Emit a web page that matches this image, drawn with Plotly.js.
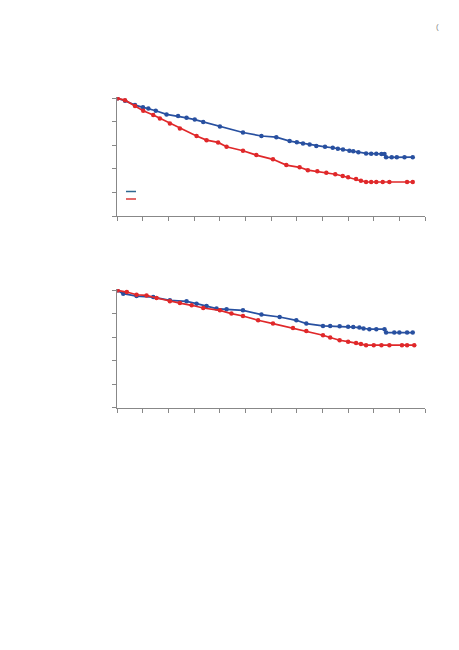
<!DOCTYPE html>
<html><head><meta charset="utf-8">
<script src="https://cdn.plot.ly/plotly-3.0.1.min.js"></script>
<style>html,body{margin:0;padding:0;background:#fff}#c{width:459px;height:650px}</style>
</head><body><div id="c"></div>
<script>
// Panel A
const tA_blue = [0,0.3,0.69,1.0,1.21,1.5,1.92,2.37,2.7,3.02,3.35,4.0,4.9,5.62,6.2,6.72,7.0,7.24,7.5,7.76,8.1,8.4,8.6,8.8,9.05,9.2,9.4,9.7,9.9,10.1,10.3,10.42,10.48,10.7,10.9,11.2,11.52];
const sA_blue = [1.0,0.98,0.943,0.925,0.915,0.895,0.864,0.85,0.835,0.82,0.80,0.76,0.71,0.68,0.67,0.637,0.627,0.617,0.607,0.595,0.588,0.58,0.572,0.565,0.555,0.55,0.543,0.532,0.53,0.529,0.528,0.527,0.499,0.499,0.5,0.5,0.5];
const tA_red = [0,0.3,0.69,1.01,1.4,1.66,2.05,2.44,3.09,3.48,3.93,4.26,4.9,5.42,6.07,6.59,7.11,7.43,7.8,8.15,8.5,8.79,9.0,9.31,9.5,9.7,9.9,10.1,10.35,10.61,11.3,11.52];
const sA_red = [1.0,0.985,0.935,0.895,0.858,0.83,0.787,0.745,0.68,0.645,0.626,0.589,0.555,0.518,0.482,0.433,0.414,0.39,0.38,0.368,0.355,0.34,0.33,0.314,0.3,0.29,0.29,0.29,0.29,0.29,0.289,0.289];
// Panel B
const tB_blue = [0,0.23,0.75,1.4,2.05,2.7,3.09,3.48,3.87,4.26,4.9,5.62,6.33,6.98,7.37,8.02,8.3,8.67,9.0,9.2,9.44,9.6,9.83,10.1,10.42,10.48,10.8,11.0,11.3,11.52];
const sB_blue = [1.0,0.972,0.952,0.943,0.915,0.907,0.887,0.867,0.845,0.839,0.83,0.794,0.773,0.745,0.717,0.697,0.696,0.694,0.69,0.687,0.683,0.676,0.669,0.669,0.669,0.64,0.64,0.64,0.64,0.64];
const tB_red = [0,0.37,0.75,1.14,1.53,2.05,2.44,2.9,3.35,4.0,4.45,4.9,5.49,6.07,6.85,7.37,8.02,8.3,8.67,9.0,9.31,9.5,9.7,10.0,10.3,10.61,11.1,11.3,11.58];
const sB_red = [1.0,0.986,0.963,0.957,0.935,0.907,0.892,0.873,0.85,0.83,0.802,0.782,0.745,0.717,0.68,0.654,0.618,0.598,0.575,0.563,0.552,0.542,0.533,0.533,0.533,0.533,0.533,0.533,0.533];

const xTicks = [0,1,2,3,4,5,6,7,8,9,10,11,12];
const yTicks = [0,0.2,0.4,0.6,0.8,1.0];

const BLUE = '#2850a0', RED = '#e0282a';
function tr(x,y,c,xa,ya){return {x:x,y:y,mode:'lines+markers',type:'scatter',xaxis:xa,yaxis:ya,
  line:{color:c,width:1.7},marker:{color:c,size:4.5,symbol:'circle'},showlegend:false,hoverinfo:'skip'};}
const data = [
  tr(tA_blue,sA_blue,BLUE,'x','y'), tr(tA_red,sA_red,RED,'x','y'),
  tr(tB_blue,sB_blue,BLUE,'x2','y2'), tr(tB_red,sB_red,RED,'x2','y2')
];
const ax = {range:[0,12],tickvals:xTicks,showticklabels:false,ticks:'outside',ticklen:4,tickcolor:'#888',
  showline:true,linecolor:'#888',linewidth:1,showgrid:false,zeroline:false,domain:[0.2556,0.926]};
const ay = {range:[0,1.012],tickvals:yTicks,showticklabels:false,ticks:'outside',ticklen:4,tickcolor:'#888',
  showline:true,linecolor:'#888',linewidth:1,showgrid:false,zeroline:false};
const layout = {
  width:459,height:650,margin:{l:0,r:0,t:0,b:0},paper_bgcolor:'#fff',plot_bgcolor:'#fff',
  xaxis:Object.assign({},ax,{anchor:'y'}),
  yaxis:Object.assign({},ay,{domain:[0.6677,0.8508],anchor:'x'}),
  xaxis2:Object.assign({},ax,{anchor:'y2'}),
  yaxis2:Object.assign({},ay,{domain:[0.3728,0.5554],anchor:'x2'}),
  shapes:[
    {type:'line',xref:'paper',yref:'paper',x0:126/459,x1:136/459,y0:1-191.5/650,y1:1-191.5/650,line:{color:'#2f6890',width:1.5}},
    {type:'line',xref:'paper',yref:'paper',x0:126/459,x1:136/459,y0:1-199/650,y1:1-199/650,line:{color:'#d83838',width:1.5}}
  ],
  annotations:[{text:'(',xref:'paper',yref:'paper',x:441/459,y:1-20/650,showarrow:false,font:{size:8,color:'#888',family:'Liberation Sans'}}]
};
Plotly.newPlot('c',data,layout,{staticPlot:true,displayModeBar:false});
</script></body></html>
